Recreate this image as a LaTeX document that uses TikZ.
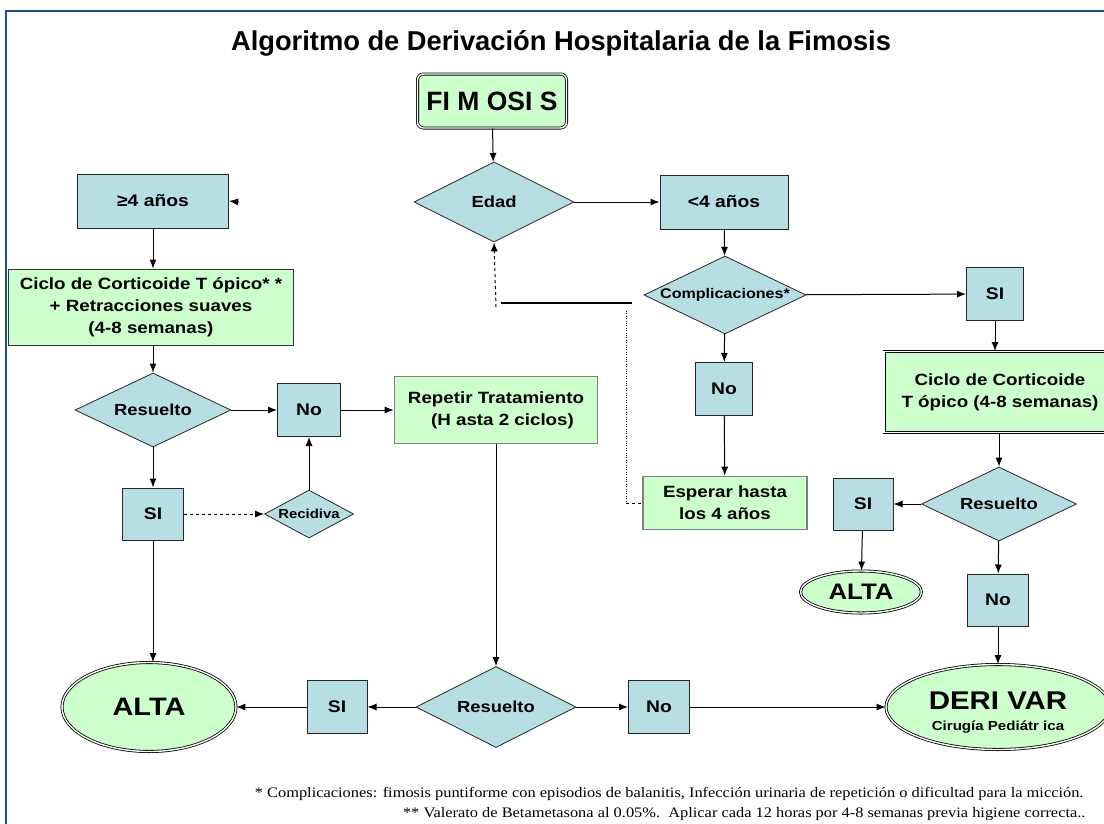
\documentclass[tikz,border=0pt]{standalone}
\usepackage{fontspec}
\setmainfont{Liberation Sans}[FakeStretch=1.15]
\newfontfamily\titulofont{Liberation Sans}
\newfontfamily\notafont{Liberation Serif}[FakeStretch=1.13]
\usepackage{tikz}
\usetikzlibrary{arrows.meta,calc,shapes.geometric}
\definecolor{cajaazul}{RGB}{183,222,226}
\definecolor{cajaverde}{RGB}{204,255,204}
\definecolor{marco}{RGB}{31,78,140}
\definecolor{gris}{RGB}{128,128,128}

\begin{document}
\begin{tikzpicture}[x=1pt,y=-1pt,
  azul/.style={draw=black!85,fill=cajaazul,line width=1pt,inner sep=0pt,font=\bfseries\fontsize{16.8}{19}\selectfont},
  verde/.style={draw=gris,fill=cajaverde,line width=1.6pt,inner sep=0pt,align=center,font=\bfseries\fontsize{16.3}{22}\selectfont},
  rombo/.style={diamond,aspect=2,draw=black!85,fill=cajaazul,line width=0.8pt,inner sep=0pt,font=\bfseries\fontsize{16}{19}\selectfont},
  doble/.style={draw=black,double=white,double distance=1.4pt,fill=cajaverde,line width=0.8pt},
  final/.style={ellipse,doble,inner sep=0pt,align=center,font=\bfseries},
  flecha/.style={-{Latex[length=9pt,width=7pt]},line width=1pt}]
\useasboundingbox (0,0) rectangle (1104,823);
\clip (0,0) rectangle (1104,823);
\draw[marco,line width=2.2pt] (6,11) rectangle (1130,850);

\node[anchor=base,font=\titulofont\bfseries\fontsize{27.3}{30}\selectfont] (titulo) at (561,50) {Algoritmo de Derivación Hospitalaria de la Fimosis};

% centro
\node[doble,rounded corners=6pt,minimum width=149,minimum height=54,inner sep=0pt,font=\titulofont\bfseries\fontsize{26.5}{30}\selectfont] (fimosis) at (492,101) {FI M OSI S};
\node[rombo,minimum width=160,minimum height=80] (edad) at (494,202) {Edad};
\node[azul,minimum width=151,minimum height=54] (mayor) at (153,201) {≥4 años};
\node[azul,minimum width=128,minimum height=54] (menor) at (724,202) {<4 años};
\node[rombo,minimum width=162,minimum height=77,font=\bfseries\fontsize{14}{16}\selectfont] (compl) at (725,295) {Complicaciones*};
\node[azul,minimum width=57,minimum height=53] (si1) at (995,294) {SI};
\node[azul,minimum width=57,minimum height=53] (no1) at (724,389) {No};
\node[verde,minimum width=164,minimum height=53] (esperar) at (725,503) {Esperar hasta\\los 4 años};

% derecha
\node[verde,doble,minimum width=232,minimum height=81] (ciclo2) at (1000,392) {Ciclo de Corticoide\\T ópico (4-8 semanas)};
\node[rombo,minimum width=155,minimum height=74] (res2) at (999,504) {Resuelto};
\node[azul,minimum width=60,minimum height=52] (si2) at (863,504) {SI};
\node[final,minimum width=121,minimum height=42,font=\bfseries\fontsize{22.4}{26}\selectfont] (alta2) at (861,592) {ALTA};
\node[azul,minimum width=61,minimum height=52] (no2) at (998,600) {No};
\node[final,minimum width=224,minimum height=85,font=\bfseries\fontsize{13.1}{21}\selectfont] (derivar) at (998,707) {{\fontsize{25.6}{21}\selectfont\rule{0pt}{29pt}DERI VAR}\\Cirugía Pediátr ica};

% izquierda
\node[verde,draw=black!80,line width=0.8pt,minimum width=285,minimum height=76] (ciclo1) at (151,307) {Ciclo de Corticoide T ópico* *\\+ Retracciones suaves\\(4-8 semanas)};
\node[rombo,minimum width=156,minimum height=74] (res1) at (153,410) {Resuelto};
\node[azul,minimum width=63,minimum height=53] (no3) at (309,410) {No};
\node[verde,minimum width=203,minimum height=67] (repetir) at (496,410) {Repetir Tratamiento\\\hspace*{0.8em}(H asta 2 ciclos)};
\node[azul,minimum width=61,minimum height=52] (si3) at (153,514) {SI};
\node[rombo,minimum width=89,minimum height=48,font=\bfseries\fontsize{13}{14}\selectfont] (recidiva) at (309,514) {Recidiva};

% abajo
\node[final,minimum width=174,minimum height=89,font=\bfseries\fontsize{25.2}{28}\selectfont] (alta1) at (149,707) {ALTA};
\node[rombo,minimum width=160,minimum height=81] (res3) at (496,707) {Resuelto};
\node[azul,minimum width=60,minimum height=53] (si4) at (337,707) {SI};
\node[azul,minimum width=61,minimum height=53] (no4) at (659,707) {No};

\draw[flecha] (fimosis) -- (edad);
\draw[flecha] (edad) -- (menor);
\draw[flecha] (menor) -- (compl);
\draw[flecha] (compl) -- (si1);
\draw[flecha] (compl) -- (no1);
\draw[flecha] (no1) -- (esperar);
\draw[flecha] (si1.south) -- (si1.south |- ciclo2.north);
\draw[flecha] (ciclo2.south -| res2.north) -- (res2);
\draw[flecha] (res2) -- (si2);
\draw[flecha] (si2) -- (alta2);
\draw[flecha] (res2) -- (no2);
\draw[flecha] (no2) -- (derivar);

\draw[flecha] (mayor.south) -- (mayor.south |- ciclo1.north);
\draw[flecha] (ciclo1.south -| res1.north) -- (res1);
\draw[flecha] (res1) -- (no3);
\draw[flecha] (no3) -- (repetir);
\draw[flecha] (res1) -- (si3);
\draw[flecha,dashed] (si3) -- (recidiva);
\draw[flecha] (recidiva) -- (no3);
\draw[flecha] (si3.south) -- (si3.south |- alta1.north);
\draw[flecha] (repetir) -- (res3);
\draw[flecha] (res3) -- (si4);
\draw[flecha] (si4) -- (alta1);
\draw[flecha] (res3) -- (no4);
\draw[flecha] (no4) -- (derivar);

\coordinate (punta) at (239,202);
\draw[flecha] (punta) -- (mayor.east);

% vuelta a Edad
\coordinate (barraA) at (501,303);
\coordinate (barraB) at (632,303);
\coordinate (punteado) at (626,311);
\coordinate (esquina) at (626,503);
\coordinate (retorno) at (496,307);
\draw[line width=1.8pt] (barraA) -- (barraB);
\draw[dotted] (punteado) -- (esquina);
\draw[dashed,line width=1pt] (esquina) -- (esperar.west);
\draw[flecha,dashed] (retorno) -- (edad.south);

\node[anchor=base east,font=\notafont\fontsize{14.5}{17}\selectfont] (nota1) at (1087,797) {* Complicaciones: fimosis puntiforme con episodios de balanitis, Infección urinaria de repetición o dificultad para la micción.};
\node[anchor=base east,font=\notafont\fontsize{14.5}{17}\selectfont] (nota2) at (1089,817) {** Valerato de Betametasona al 0.05\%.\ \ Aplicar cada 12 horas por 4-8 semanas previa higiene correcta..};
\end{tikzpicture}
\end{document}
